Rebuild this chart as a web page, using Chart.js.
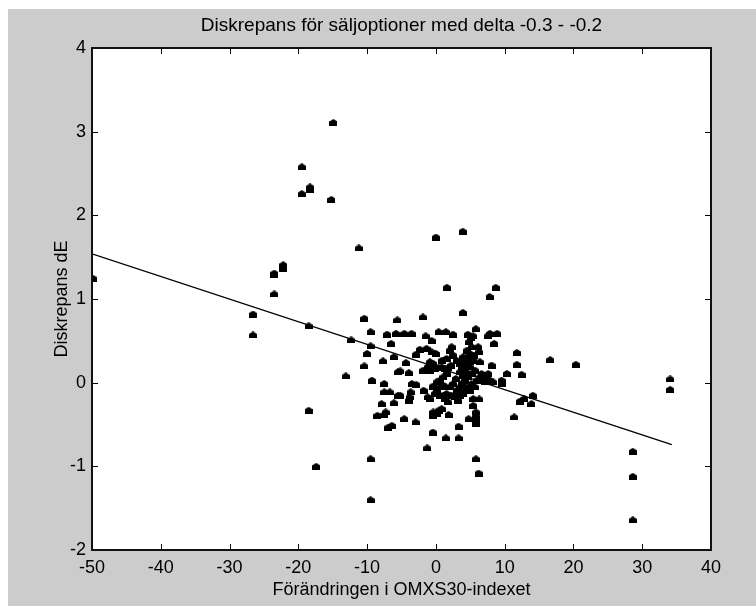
<!DOCTYPE html>
<html lang="sv">
<head>
<meta charset="utf-8" />
<script src="https://cdn.jsdelivr.net/npm/chart.js@4.4.1/dist/chart.umd.min.js"></script>
<style>
  html, body { margin: 0; padding: 0; background: #fff; }
  canvas { display: block; }
</style>
<title>Diskrepans för säljoptioner</title>
</head>
<body>
<canvas id="grafico" width="756" height="606"></canvas>
<script>
// tick values
const xTicks = [-50, -40, -30, -20, -10, 0, 10, 20, 30, 40];
const yTicks = [-2, -1, 0, 1, 2, 3, 4];

// förändring i index (x) och diskrepans dE (y)
const forandring = [
  -49.9, -26.6, -26.6, -23.5, -23.5, -23.5, -22.2, -22.2, -19.5, -19.5,
  -18.3, -18.3, -18.5, -18.5, -17.4, -15.2, -14.9, -13.1, -12.3, -11.2,
  -10.4, -10.4, -10.0, -9.5, -9.5, -9.3, -9.5, -9.5, -8.5, -7.9,
  -7.7, -7.5, -7.5, -7.5, -7.3, -7.1, -6.9, -6.7, -6.5, -6.4,
  -6.1, -6.1, -5.8, -5.6, -5.5, -5.5,
  -5.18, -4.60, -2.96, -4.36, -5.18, -3.93, -3.49, -2.86, -3.68, -3.83,
  -3.97, -2.91, -2.33, -1.36, -0.63, 0.00, -4.60, -3.54, -1.89, -1.50,
  -0.63, 0.39, 1.45, 2.47, -1.79, -1.21, -0.87, -0.44, -0.19, 0.10,
  0.58, 1.07, 1.40, -0.39, 0.10, 0.39, 0.82, 1.84, -0.44, -1.26,
  1.45, 3.29, 3.29, 4.75, 5.81, 5.81, 5.81, 5.81, 5.43, 5.43,
  6.30, -1.84, -1.21, -0.87, -0.39, -0.87, -0.15, 0.34, 0.82, 1.31,
  1.79, 1.55, 1.07, 0.58, 0.10, 1.55, 2.03, 2.28, 2.52, 3.00,
  3.49, 3.73, 3.97, 4.46, 4.21, 4.70, 4.94, 4.55, 5.18, 4.84,
  5.04, 4.65, 5.43, 5.81, 6.15, 6.25, 6.39, 5.67, 5.18, 4.70,
  4.21, 3.73, 4.46, 4.94, 3.97, 3.49, 2.76, 2.28, 1.55, 1.31,
  1.79, 3.00, 2.03, 2.52, 6.39, 6.88, 7.36, 7.85, 8.33, 9.54,
  9.54, 8.09, 7.61, 7.12, 5.91, 6.64, 7.51, 7.85, 8.91, 8.48,
  3.92, 3.49, 4.21, 5.18, 5.67, 4.94, 5.43, 3.97, 3.49, 0.58,
  1.07, -0.39, 2.9, 4.0, 5.0, 4.4, 3.2, 2.2, 5.6, 0.9,
  10.32, 11.77, 11.77, 12.45, 11.39, 12.21, 12.84, 14.10, 13.90, 16.62,
  20.35, 34.06, 34.06, 28.63, 28.63, 28.63, 5.81, 6.20,
  0.0, 3.9, 1.6, 8.7, 7.8
];
const diskrepans = [
  1.25, 0.82, 0.57, 1.31, 1.29, 1.06, 1.41, 1.37, 2.58, 2.26,
  2.34, 2.31, 0.68, -0.33, -1.00, 2.19, 3.11, 0.08, 0.51, 1.61,
  0.77, 0.20, 0.35, 0.61, 0.44, 0.03, -0.91, -1.40, -0.39, -0.25,
  0.26, -0.01, -0.11, -0.38, -0.35, 0.58, -0.53, -0.11, 0.47, -0.51,
  0.31, -0.24, 0.59, 0.75, 0.13, -0.15,
  -0.15, -0.43, -0.47, 0.24, 0.14, 0.12, -0.01, -0.02, -0.11, -0.17,
  -0.21, 0.34, 0.40, 0.41, 0.37, 0.35, 0.59, 0.59, 0.785, 0.56,
  0.506, 0.61, 0.61, 0.58, -0.09, -0.17, -0.19, -0.04, -0.13, -0.09,
  -0.05, -0.03, -0.05, -0.39, -0.37, -0.33, -0.31, -0.38, -0.59, -0.78,
  -0.66, -0.66, -0.52, -0.43, -0.49, -0.45, -0.40, -0.35, -0.27, -0.19,
  -0.195, 0.15, 0.19, 0.25, 0.23, 0.15, 0.17, 0.18, 0.19, 0.17,
  0.18, 0.11, 0.07, 0.03, 0.01, 0.29, 0.39, 0.43, 0.33, 0.27,
  0.23, 0.19, 0.17, 0.21, 0.27, 0.31, 0.35, 0.39, 0.43, 0.49,
  0.54, 0.58, 0.56, 0.645, 0.43, 0.37, 0.25, 0.15, 0.11, 0.07,
  0.03, -0.01, -0.05, -0.09, -0.13, -0.15, -0.16, -0.15, -0.13, -0.19,
  -0.23, -0.09, -0.05, -0.01, 0.07, 0.05, 0.09, 0.03, 0.01, 0.03,
  -0.01, 0.21, 0.11, 0.01, 0.03, 0.11, 0.56, 0.59, 0.59, 0.47,
  0.84, -0.05, -0.09, -0.01, -0.05, 0.19, 0.27, 0.31, 0.13, -0.15,
  -0.15, -0.35, 0.05, 0.09, 0.25, 0.13, -0.21, 0.21, 0.33, 0.27,
  0.11, 0.36, 0.22, 0.10, -0.41, -0.22, -0.19, -0.15, -0.25, 0.275,
  0.22, 0.044, -0.08, -0.82, -1.12, -1.64, -0.91, -1.08,
  1.74, 1.81, 1.14, 1.14, 1.03
];

// anpassad linje (ändpunkter avlästa)
const linjeX = [-50, 34.3];
const linjeY = [1.54, -0.74];

const typsnitt = "'Liberation Sans', Arial, sans-serif";

// liten "hus"-formad markör som i originalet
const markor = document.createElement("canvas");
markor.width = 8;
markor.height = 7;
const mk = markor.getContext("2d");
mk.fillStyle = "#000";
mk.beginPath();
mk.moveTo(4, 0);
mk.lineTo(8, 2.5);
mk.lineTo(8, 7);
mk.lineTo(0, 7);
mk.lineTo(0, 2.5);
mk.closePath();
mk.fill();

const ram = {
  id: "ram",
  beforeDraw(chart) {
    const { ctx, chartArea: a } = chart;
    ctx.save();
    ctx.fillStyle = "#ffffff";
    ctx.fillRect(0, 0, chart.width, chart.height);
    ctx.fillStyle = "#cccccc";
    ctx.fillRect(8, 9, chart.width - 8, chart.height - 9);
    ctx.fillStyle = "#ffffff";
    ctx.fillRect(a.left, a.top, a.right - a.left, a.bottom - a.top);
    ctx.restore();
  },
  afterDraw(chart) {
    const { ctx, chartArea: a, scales } = chart;
    ctx.save();
    ctx.strokeStyle = "#000";
    ctx.lineWidth = 1;
    ctx.beginPath();
    xTicks.forEach((v) => {
      const p = Math.round(scales.x.getPixelForValue(v)) + 0.5;
      ctx.moveTo(p, a.bottom);
      ctx.lineTo(p, a.bottom - 6);
      ctx.moveTo(p, a.top);
      ctx.lineTo(p, a.top + 6);
    });
    yTicks.forEach((v) => {
      const p = Math.round(scales.y.getPixelForValue(v)) + 0.5;
      ctx.moveTo(a.left, p);
      ctx.lineTo(a.left + 6, p);
      ctx.moveTo(a.right, p);
      ctx.lineTo(a.right - 6, p);
    });
    ctx.stroke();
    ctx.strokeStyle = "#111";
    ctx.lineWidth = 2;
    ctx.strokeRect(a.left, a.top, a.right - a.left, a.bottom - a.top);
    ctx.restore();
  }
};

new Chart(document.getElementById("grafico").getContext("2d"), {
  type: "scatter",
  data: {
    datasets: [
      {
        label: "Linje",
        data: linjeX.map((x, i) => ({ x: x, y: linjeY[i] })),
        showLine: true,
        borderColor: "#000",
        borderWidth: 1.4,
        pointRadius: 0,
        fill: false
      },
      {
        label: "Diskrepans",
        data: forandring.map((x, i) => ({ x: x, y: diskrepans[i] })),
        pointStyle: markor,
        pointRadius: 4,
        clip: 0
      }
    ]
  },
  options: {
    responsive: false,
    animation: false,
    devicePixelRatio: 1,
    layout: { padding: { left: 0, top: 0, right: 45, bottom: 0 } },
    plugins: {
      legend: { display: false },
      tooltip: { enabled: false },
      title: {
        display: true,
        fullSize: false,
        text: "Diskrepans för säljoptioner med delta -0.3 - -0.2",
        color: "#000",
        font: { family: typsnitt, size: 19, weight: "normal" },
        padding: { top: 14, bottom: 11.2 }
      }
    },
    scales: {
      x: {
        type: "linear",
        min: -50,
        max: 40,
        afterBuildTicks: (s) => { s.ticks = xTicks.map((v) => ({ value: v })); },
        afterFit: (s) => { s.height = 56; },
        grid: { display: false, drawTicks: false },
        border: { display: false },
        ticks: {
          color: "#000",
          padding: 7,
          maxRotation: 0,
          autoSkip: false,
          font: { family: typsnitt, size: 18 }
        },
        title: {
          display: true,
          text: "Förändringen i OMXS30-indexet",
          color: "#000",
          font: { family: typsnitt, size: 18 },
          padding: { top: 0, bottom: 5 }
        }
      },
      y: {
        type: "linear",
        min: -2,
        max: 4,
        afterBuildTicks: (s) => { s.ticks = yTicks.map((v) => ({ value: v })); },
        afterFit: (s) => { s.width = 92; },
        grid: { display: false, drawTicks: false },
        border: { display: false },
        ticks: {
          color: "#000",
          padding: 6,
          autoSkip: false,
          font: { family: typsnitt, size: 18 }
        },
        title: {
          display: true,
          text: "Diskrepans dE",
          color: "#000",
          font: { family: typsnitt, size: 18 },
          padding: { top: 51, bottom: 0 }
        }
      }
    }
  },
  plugins: [ram]
});
</script>
</body>
</html>
